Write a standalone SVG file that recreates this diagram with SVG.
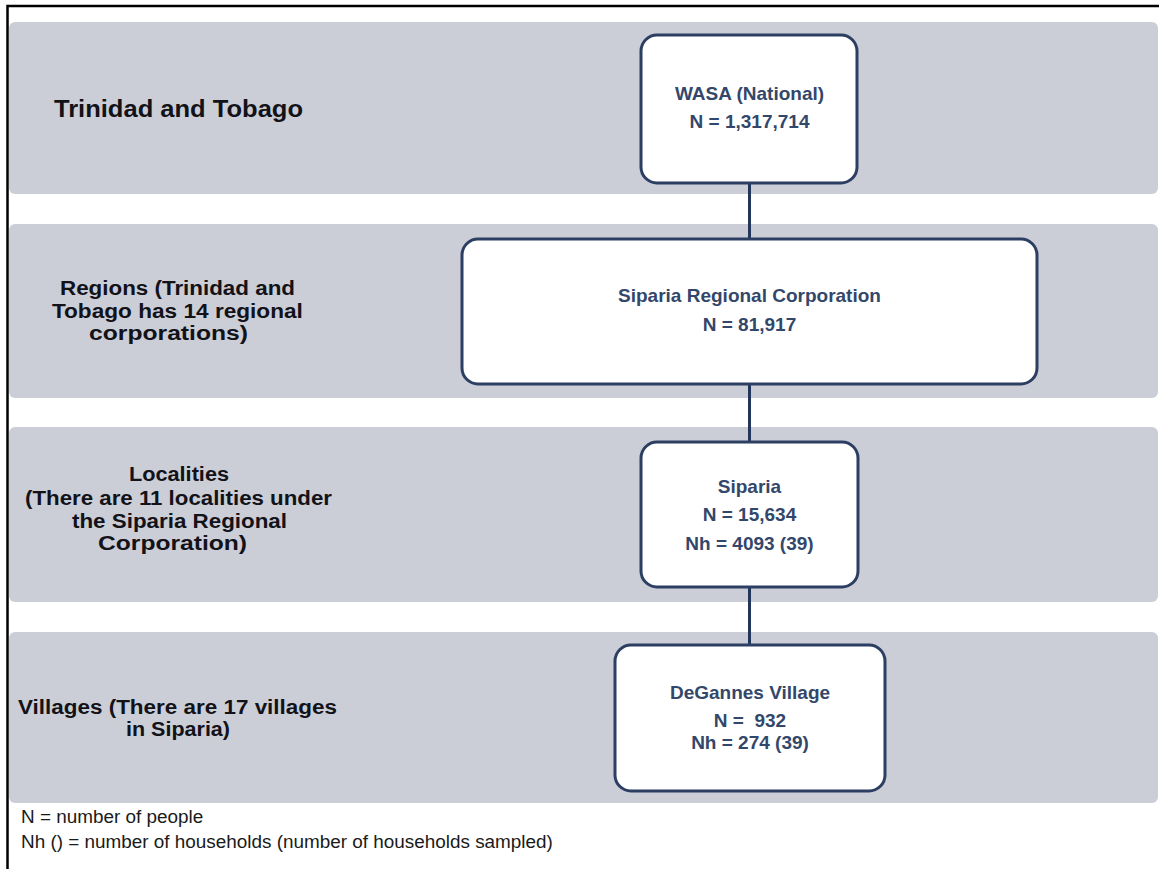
<svg xmlns="http://www.w3.org/2000/svg" width="1159" height="869" viewBox="0 0 1159 869">
<style>
.band{fill:#cbced6;}
.node{fill:#ffffff;stroke:#2c3f63;stroke-width:3;}
.nt{font-family:"Liberation Sans",Arial,sans-serif;font-weight:bold;font-size:19px;fill:#33476a;text-anchor:middle;white-space:pre;}
.lt{font-family:"Liberation Sans",Arial,sans-serif;font-weight:bold;font-size:20px;fill:#121218;text-anchor:middle;}
.ft{font-family:"Liberation Sans",Arial,sans-serif;font-size:18.9px;fill:#1a1a1a;}
.conn{stroke:#22365c;stroke-width:3;fill:none;}
.border{stroke:#000;stroke-width:2.5;fill:none;}
</style>
<rect width="1159" height="869" fill="#ffffff"/>
<path class="border" d="M1159,6 H7.5 V869"/>
<g id="bands">
<rect class="band" x="9" y="22" width="1149" height="172" rx="6"/>
<rect class="band" x="9" y="224" width="1149" height="174" rx="6"/>
<rect class="band" x="9" y="427" width="1149" height="175" rx="6"/>
<rect class="band" x="9" y="632" width="1149" height="171" rx="6"/>
</g>
<g id="connectors">
<line class="conn" x1="749.5" y1="183" x2="749.5" y2="239"/>
<line class="conn" x1="749.5" y1="384" x2="749.5" y2="442"/>
<line class="conn" x1="749.5" y1="587" x2="749.5" y2="645"/>
</g>
<g id="label-tt">
<text class="lt" x="178.5" y="117" style="font-size:24px" textLength="249" lengthAdjust="spacingAndGlyphs">Trinidad and Tobago</text>
</g>
<g id="label-regions">
<text class="lt" x="177.5" y="295" textLength="235" lengthAdjust="spacingAndGlyphs">Regions (Trinidad and</text>
<text class="lt" x="177.4" y="317.5" textLength="251" lengthAdjust="spacingAndGlyphs">Tobago has 14 regional</text>
<text class="lt" x="168.5" y="340" textLength="159" lengthAdjust="spacingAndGlyphs">corporations)</text>
</g>
<g id="label-localities">
<text class="lt" x="179" y="480.5" textLength="100" lengthAdjust="spacingAndGlyphs">Localities</text>
<text class="lt" x="178.5" y="505" textLength="307" lengthAdjust="spacingAndGlyphs">(There are 11 localities under</text>
<text class="lt" x="179.5" y="527.5" textLength="215" lengthAdjust="spacingAndGlyphs">the Siparia Regional</text>
<text class="lt" x="172.5" y="550" textLength="149" lengthAdjust="spacingAndGlyphs">Corporation)</text>
</g>
<g id="label-villages">
<text class="lt" x="177.5" y="713.5" textLength="319" lengthAdjust="spacingAndGlyphs">Villages (There are 17 villages</text>
<text class="lt" x="178" y="736" textLength="104" lengthAdjust="spacingAndGlyphs">in Siparia)</text>
</g>
<g id="node-wasa">
<rect class="node" x="641" y="35" width="216" height="148" rx="16"/>
<text class="nt" x="749.5" y="100">WASA (National)</text>
<text class="nt" x="749.5" y="128">N = 1,317,714</text>
</g>
<g id="node-regional">
<rect class="node" x="462" y="239" width="575" height="145" rx="16"/>
<text class="nt" x="749.5" y="302">Siparia Regional Corporation</text>
<text class="nt" x="749.5" y="331">N = 81,917</text>
</g>
<g id="node-siparia">
<rect class="node" x="641" y="442" width="217" height="145" rx="16"/>
<text class="nt" x="749.5" y="493">Siparia</text>
<text class="nt" x="749.5" y="521">N = 15,634</text>
<text class="nt" x="749.5" y="550">Nh = 4093 (39)</text>
</g>
<g id="node-degannes">
<rect class="node" x="615" y="645" width="270" height="146" rx="16"/>
<text class="nt" x="750" y="699">DeGannes Village</text>
<text class="nt" x="750" y="727" xml:space="preserve">N =  932</text>
<text class="nt" x="750" y="748.5">Nh = 274 (39)</text>
</g>
<g id="legend">
<text class="ft" x="21" y="823">N = number of people</text>
<text class="ft" x="21" y="848">Nh () = number of households (number of households sampled)</text>
</g>
</svg>
